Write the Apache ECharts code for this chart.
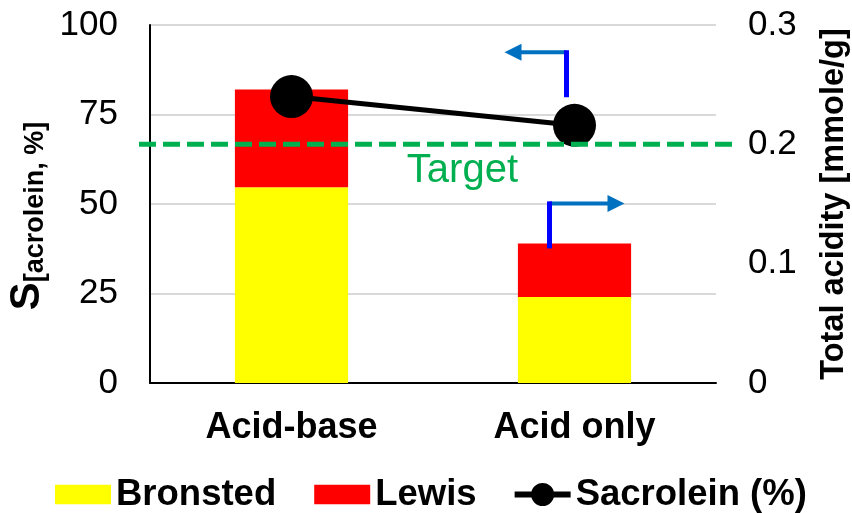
<!DOCTYPE html>
<html>
<head>
<meta charset="utf-8">
<script src="https://cdn.jsdelivr.net/npm/echarts@6/dist/echarts.min.js"></script>
<style>
  html, body { margin: 0; padding: 0; background: #fff; }
  #chart { width: 852px; height: 513px; }
</style>
</head>
<body>
<div id="chart"></div>
<script>
// Catalyst types on the category axis
const categories = ['Acid-base', 'Acid only'];
// Acid site amounts, mmole/g (right axis, stacked)
const bronsted = [0.164, 0.072];
const lewis = [0.082, 0.045];
// Acrolein selectivity, % (left axis)
const sAcrolein = [80, 72];
// Target total acidity level (right axis)
const targetAcidity = 0.2;
// Axis ranges
const leftMin = 0, leftMax = 100, leftStep = 25;
const rightMin = 0, rightMax = 0.3, rightStep = 0.1;

const FONT = '"Liberation Sans", Arial, Helvetica, sans-serif';
const GREEN = '#00B050';

// Legend icons: a flat swatch for the bars, a thick line with a dot for the line series
const RECT_ICON = 'path://M0,0H52V18H0Z';
const LINE_ICON = 'path://M0,8.5H56V14.5H0Z M16.5,11.5a11.5,11.5 0 1,1 23,0a11.5,11.5 0 1,1 -23,0Z';

const chart = echarts.init(document.getElementById('chart'));

chart.setOption({
  animation: false,
  backgroundColor: '#ffffff',
  textStyle: { fontFamily: FONT, color: '#000' },
  grid: { left: 150, right: 136, top: 25, bottom: 130, containLabel: false, outerBoundsMode: 'none' },
  legend: {
    bottom: -5,
    left: 50,
    itemWidth: 56,
    itemHeight: 23,
    itemGap: 38,
    symbolKeepAspect: true,
    textStyle: { fontFamily: FONT, fontSize: 36.5, fontWeight: 'bold', color: '#000' },
    data: [
      { name: 'Bronsted', icon: RECT_ICON },
      { name: 'Lewis', icon: RECT_ICON },
      { name: 'Sacrolein (%)', icon: LINE_ICON }
    ]
  },
  xAxis: {
    type: 'category',
    data: categories,
    boundaryGap: true,
    axisLine: { show: true, lineStyle: { color: '#000', width: 2 } },
    axisTick: { show: false },
    axisLabel: { fontFamily: FONT, fontSize: 36, fontWeight: 'bold', color: '#000', margin: 27 }
  },
  yAxis: [
    {
      type: 'value',
      min: leftMin, max: leftMax, interval: leftStep,
      position: 'left',
      name: '{s|S}{sub|[acrolein, %]}',
      nameLocation: 'middle',
      nameRotate: 90,
      nameGap: 97,
      nameTextStyle: {
        padding: [0, 24, 0, 0],
        rich: {
          s: { fontFamily: FONT, fontSize: 42, fontWeight: 'bold', color: '#000', lineHeight: 42 },
          sub: { fontFamily: FONT, fontSize: 27, fontWeight: 'bold', color: '#000', lineHeight: 22, verticalAlign: 'bottom' }
        }
      },
      axisLine: { show: true, lineStyle: { color: '#000', width: 2 } },
      axisTick: { show: false },
      axisLabel: { fontFamily: FONT, fontSize: 35, color: '#000', margin: 32 },
      splitLine: { show: true, lineStyle: { color: '#d9d9d9', width: 2 } }
    },
    {
      type: 'value',
      min: rightMin, max: rightMax, interval: rightStep,
      position: 'right',
      name: 'Total acidity [mmole/g]',
      nameLocation: 'middle',
      nameRotate: 90,
      nameGap: 102,
      nameTextStyle: { fontFamily: FONT, fontSize: 32.5, fontWeight: 'bold', color: '#000' },
      axisLine: { show: false },
      axisTick: { show: false },
      axisLabel: {
        fontFamily: FONT, fontSize: 35, color: '#000', margin: 32,
        formatter: v => String(Math.round(v * 10) / 10)
      },
      splitLine: { show: false }
    }
  ],
  series: [
    {
      name: 'Bronsted',
      type: 'bar',
      stack: 'acid',
      yAxisIndex: 1,
      barWidth: '40%',
      itemStyle: { color: '#FFFF00' },
      data: bronsted
    },
    {
      name: 'Lewis',
      type: 'bar',
      stack: 'acid',
      yAxisIndex: 1,
      barWidth: '40%',
      itemStyle: { color: '#FF0000' },
      data: lewis
    },
    {
      name: 'Sacrolein (%)',
      type: 'line',
      yAxisIndex: 0,
      symbol: 'circle',
      symbolSize: 43,
      z: 5,
      lineStyle: { color: '#000', width: 5 },
      itemStyle: { color: '#000' },
      data: sAcrolein
    }
  ]
});

// Annotations: target line, its label, and the arrows pointing to each axis
function drawAnnotations() {
  const grid = chart.getModel().getComponent('grid').coordinateSystem.getRect();
  const yTarget = chart.convertToPixel({ yAxisIndex: 1 }, targetAcidity);
  const onlyIdx = 1;
  const pt = chart.convertToPixel({ xAxisIndex: 0, yAxisIndex: 0 }, [onlyIdx, sAcrolein[onlyIdx]]);
  const barTop = chart.convertToPixel({ xAxisIndex: 0, yAxisIndex: 1 },
    [onlyIdx, bronsted[onlyIdx] + lewis[onlyIdx]]);

  const ARROW = '#0070C0';
  const STEM = '#0000FF';
  const head = (tipX, y, dir) => ({
    type: 'polygon', z: 20,
    shape: { points: [[tipX, y], [tipX - dir * 17, y - 8.5], [tipX - dir * 17, y + 8.5]] },
    style: { fill: ARROW }
  });

  // arrow to the left axis, above the selectivity point
  const ux = pt[0] - 8, uTop = pt[1] - 73, uBot = pt[1] - 28, uTip = pt[0] - 70;
  // arrow to the right axis, above the acid-only bar
  const lx = barTop[0] - 25, lTop = barTop[1] - 40, lBot = barTop[1] + 5, lTip = barTop[0] + 50;

  chart.setOption({
    graphic: [
      {
        type: 'line', z: 15,
        shape: { x1: grid.x - 11, y1: yTarget, x2: grid.x + grid.width + 16, y2: yTarget },
        style: { stroke: GREEN, lineWidth: 5, lineDash: [17, 7] }
      },
      {
        type: 'text', z: 15,
        x: grid.x + grid.width * 0.552, y: yTarget + 27,
        style: { text: 'Target', fill: GREEN, font: '40px ' + FONT, align: 'center', verticalAlign: 'middle' }
      },
      {
        type: 'line', z: 20,
        shape: { x1: ux, y1: uTop, x2: uTip + 15, y2: uTop },
        style: { stroke: ARROW, lineWidth: 4 }
      },
      head(uTip, uTop, -1),
      {
        type: 'line', z: 21,
        shape: { x1: ux, y1: uTop - 2, x2: ux, y2: uBot },
        style: { stroke: STEM, lineWidth: 5 }
      },
      {
        type: 'line', z: 20,
        shape: { x1: lx, y1: lTop, x2: lTip - 15, y2: lTop },
        style: { stroke: ARROW, lineWidth: 4 }
      },
      head(lTip, lTop, 1),
      {
        type: 'line', z: 21,
        shape: { x1: lx, y1: lTop - 2, x2: lx, y2: lBot },
        style: { stroke: STEM, lineWidth: 5 }
      }
    ]
  });
}
drawAnnotations();
</script>
</body>
</html>
